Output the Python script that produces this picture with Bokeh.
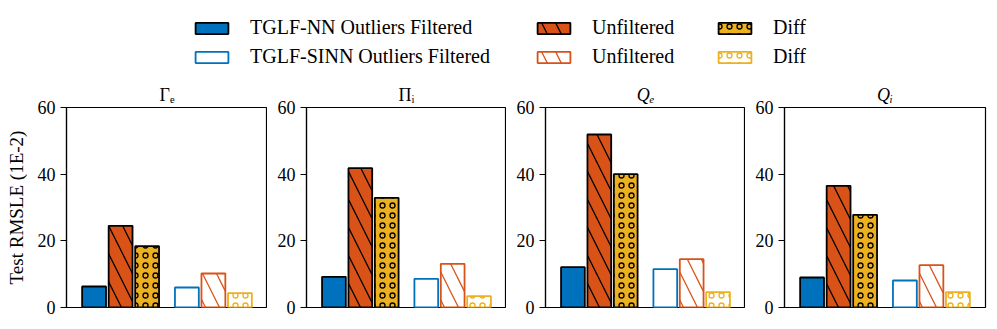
from bokeh.plotting import figure
from bokeh.models import FactorRange, FixedTicker, Legend, LegendItem, Range1d, ColumnDataSource
from bokeh.layouts import row, column
from bokeh.embed import file_html
from bokeh.resources import INLINE

# ---------------- data ----------------
panels = ["Γₑ", "Πᵢ", "Qₑ", "Qᵢ"]
models = ["TGLF-NN", "TGLF-SINN"]
variants = ["Outliers Filtered", "Unfiltered", "Diff"]

nn_filtered = [6.3, 9.2, 12.1, 9.0]
nn_unfiltered = [24.5, 41.8, 51.9, 36.5]
nn_diff = [18.4, 32.9, 40.0, 27.8]
sinn_filtered = [6.0, 8.6, 11.5, 8.1]
sinn_unfiltered = [10.2, 13.1, 14.5, 12.7]
sinn_diff = [4.3, 3.4, 4.6, 4.6]

y_ticks = [0, 20, 40, 60]
y_label = "Test RMSLE (1E-2)"
legend_labels = ["TGLF-NN Outliers Filtered", "TGLF-SINN Outliers Filtered",
                 "Unfiltered", "Unfiltered", "Diff", "Diff"]

# ---------------- styles ----------------
BLUE, ORANGE, GOLD = "#0072BD", "#D95319", "#EDB120"
FONT = "Liberation Serif"
EDGE = 1.8
DIAG = dict(hatch_pattern="left_diagonal_line", hatch_scale=28, hatch_weight=1.3)
RING = dict(hatch_pattern="ring", hatch_scale=10, hatch_weight=1.3)

series = {
    ("TGLF-NN", "Outliers Filtered"): (nn_filtered, dict(fill_color=BLUE, line_color="black")),
    ("TGLF-NN", "Unfiltered"): (nn_unfiltered, dict(fill_color=ORANGE, line_color="black",
                                                    hatch_color="black", **DIAG)),
    ("TGLF-NN", "Diff"): (nn_diff, dict(fill_color=GOLD, line_color="black",
                                        hatch_color="black", **RING)),
    ("TGLF-SINN", "Outliers Filtered"): (sinn_filtered, dict(fill_color="white", line_color=BLUE)),
    ("TGLF-SINN", "Unfiltered"): (sinn_unfiltered, dict(fill_color="white", line_color=ORANGE,
                                                        hatch_color=ORANGE, **DIAG)),
    ("TGLF-SINN", "Diff"): (sinn_diff, dict(fill_color="white", line_color=GOLD,
                                            hatch_color=GOLD, **RING)),
}
factors = [(m, v) for m in models for v in variants]

# ---------------- legend figure ----------------
lf = figure(width=997, height=80, x_range=Range1d(0, 1), y_range=Range1d(0, 1),
            x_axis_type=None, y_axis_type=None, output_backend="svg", toolbar_location=None,
            min_border=0, outline_line_color=None)
lf.xgrid.visible = False
lf.ygrid.visible = False
legend_order = [("TGLF-NN", "Outliers Filtered"), ("TGLF-SINN", "Outliers Filtered"),
                ("TGLF-NN", "Unfiltered"), ("TGLF-SINN", "Unfiltered"),
                ("TGLF-NN", "Diff"), ("TGLF-SINN", "Diff")]
dummy = []
for key in legend_order:
    vals, st = series[key]
    # hidden legend-only proxy renderer
    src = ColumnDataSource(dict(x=[0.5], top=[vals[0]]))
    r = lf.vbar(x="x", top="top", width=0.1, line_width=EDGE, source=src, **st)
    r.visible = False
    dummy.append(r)

leg_x = [191, 533, 714]
for c in range(3):
    items = [LegendItem(label=legend_labels[2 * c + r], renderers=[dummy[2 * c + r]]) for r in range(2)]
    leg = Legend(items=items, location=(leg_x[c], 12), orientation="vertical",
                 glyph_width=41, glyph_height=14, label_standoff=18, spacing=6,
                 padding=0, margin=0, border_line_color=None, background_fill_alpha=0,
                 inactive_fill_alpha=0,
                 label_text_font=FONT, label_text_font_size="20px", label_text_color="black")
    lf.add_layout(leg)

# ---------------- panels ----------------
figs = []
widths = [267, 239, 239, 252]
lefts = [66, 39, 39, 39]
rights = [0, 0, 0, 12]
for i, name in enumerate(panels):
    xr = FactorRange(factors=factors, factor_padding=0, group_padding=0.5,
                     range_padding=0.54, range_padding_units="absolute")
    p = figure(width=widths[i], height=249, x_range=xr, y_range=Range1d(y_ticks[0], y_ticks[-1]),
               output_backend="svg", toolbar_location=None,
               min_border_left=lefts[i], min_border_right=rights[i],
               min_border_top=25, min_border_bottom=22, title=name)
    for key in factors:
        vals, st = series[key]
        p.vbar(x=[key], top=[vals[i]], width=0.9, line_width=EDGE, **st)
    p.xaxis.visible = False
    p.xgrid.visible = False
    p.ygrid.visible = False
    p.outline_line_color = "black"
    p.outline_line_width = 1.2
    ax = p.yaxis[0]
    ax.ticker = FixedTicker(ticks=y_ticks)
    ax.minor_tick_line_color = None
    ax.major_tick_out = 6
    ax.major_tick_in = 0
    ax.major_tick_line_width = 1.2
    ax.axis_line_width = 1.2
    ax.axis_line_color = "black"
    ax.major_label_text_font = FONT
    ax.major_label_text_font_size = "18px"
    ax.major_label_text_color = "black"
    ax.major_label_standoff = 5
    if i == 0:
        ax.axis_label = y_label
        ax.axis_label_text_font = FONT
        ax.axis_label_text_font_size = "19px"
        ax.axis_label_text_font_style = "normal"
        ax.axis_label_text_color = "black"
        ax.axis_label_standoff = 8
    p.title.align = "center"
    p.title.text_font = FONT
    p.title.text_font_size = "18px"
    p.title.text_font_style = "italic" if name.startswith("Q") else "normal"
    p.title.text_color = "black"
    p.title.standoff = 5
    figs.append(p)

layout = column(lf, row(*figs))
open("out.html", "w").write(file_html(layout, INLINE))
